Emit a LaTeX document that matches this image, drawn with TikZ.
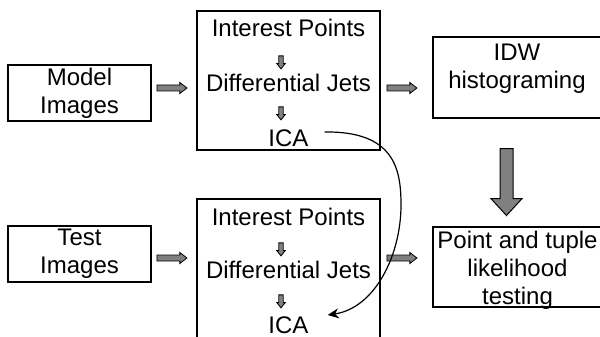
\documentclass[tikz,border=0pt]{standalone}
\usepackage{fontspec}
\setmainfont{Liberation Sans}
\usetikzlibrary{shapes.arrows,arrows.meta}

\tikzset{
    box/.style = {draw, line width=1.4pt, inner sep=0pt, align=center,
        font=\fontsize{24}{28}\selectfont},
    txt/.style = {inner sep=0pt, align=center, font=\fontsize{24}{28}\selectfont},
    hblock/.style = {draw, fill=gray, line width=0.8pt, single arrow,
        inner sep=2.6pt, minimum height=30pt,
        single arrow head extend=2.5pt, single arrow tip angle=76},
    vblock/.style = {draw, fill=gray, line width=0.8pt, single arrow,
        inner sep=1.8pt, minimum height=13pt,
        single arrow head extend=2pt, single arrow tip angle=77,
        shape border rotate=270},
}

\begin{document}
\begin{tikzpicture}[x=1pt, y=-1pt]

        % page frame, the boxes on the right run over the edge
        \useasboundingbox (0, 0) rectangle (600, 337);
        \clip (0, 0) rectangle (600, 337);

        % input boxes
        \node[box, minimum width=143pt, minimum height=56pt] (model) at (79.5, 93) {Model\\Images};
        \node[box, minimum width=143pt, minimum height=56pt] (test) at (79.5, 254) {Test\\Images};

        % feature extraction, upper and lower
        \node[box, minimum width=183pt, minimum height=139pt] (upper) at (288.5, 80.5) {};
        \node[box, minimum width=183pt, minimum height=146pt] (lower) at (288.5, 272) {};

        \node[txt] (ip1) at (288.5, 28) {Interest Points};
        \node[txt] (dj1) at (288.5, 83) {Differential Jets};
        \node[txt] (ica1) at (288.5, 138) {ICA};
        \node[txt] (ip2) at (288.5, 217) {Interest Points};
        \node[txt] (dj2) at (288.5, 270) {Differential Jets};
        \node[txt] (ica2) at (288.5, 325) {ICA};

        \node[vblock] (s1) at (281, 61) {};
        \node[vblock] (s2) at (281, 112) {};
        \node[vblock] (s3) at (281, 248) {};
        \node[vblock] (s4) at (281, 300) {};

        % right column
        \node[box, minimum width=169pt, minimum height=81pt] (idw) at (517.5, 77.5) {};
        \node[txt] (idwtxt) at (517, 69) {IDW\\histograming};
        \node[box, minimum width=169pt, minimum height=80pt] (test2) at (517.5, 267) {};
        \node[txt] (testtxt) at (517.5, 270) {Point and tuple\\likelihood\\testing};

        % block arrows
        \node[hblock] (a1) at (170, 88) {};
        \node[hblock] (a2) at (400, 88) {};
        \node[hblock] (a3) at (170, 258) {};
        \node[hblock] (a4) at (400, 258) {};
        \node[draw, fill=gray, line width=1pt, single arrow, inner sep=6pt,
            minimum height=67pt, single arrow head extend=9pt,
            single arrow tip angle=85, shape border rotate=270] (big) at (506.5, 178.5) {};

        % ICA of the model images is reused for the test images
        \draw[line width=1.2pt, -{Stealth[length=11pt, width=10pt]}]
            ([xshift=16pt, yshift=6pt]ica1.east)
            .. controls (395, 131) and (401, 170) .. (401, 205)
            .. controls (401, 255) and (375, 308) .. ([xshift=19pt, yshift=10pt]ica2.east);
    \end{tikzpicture}
\end{document}
